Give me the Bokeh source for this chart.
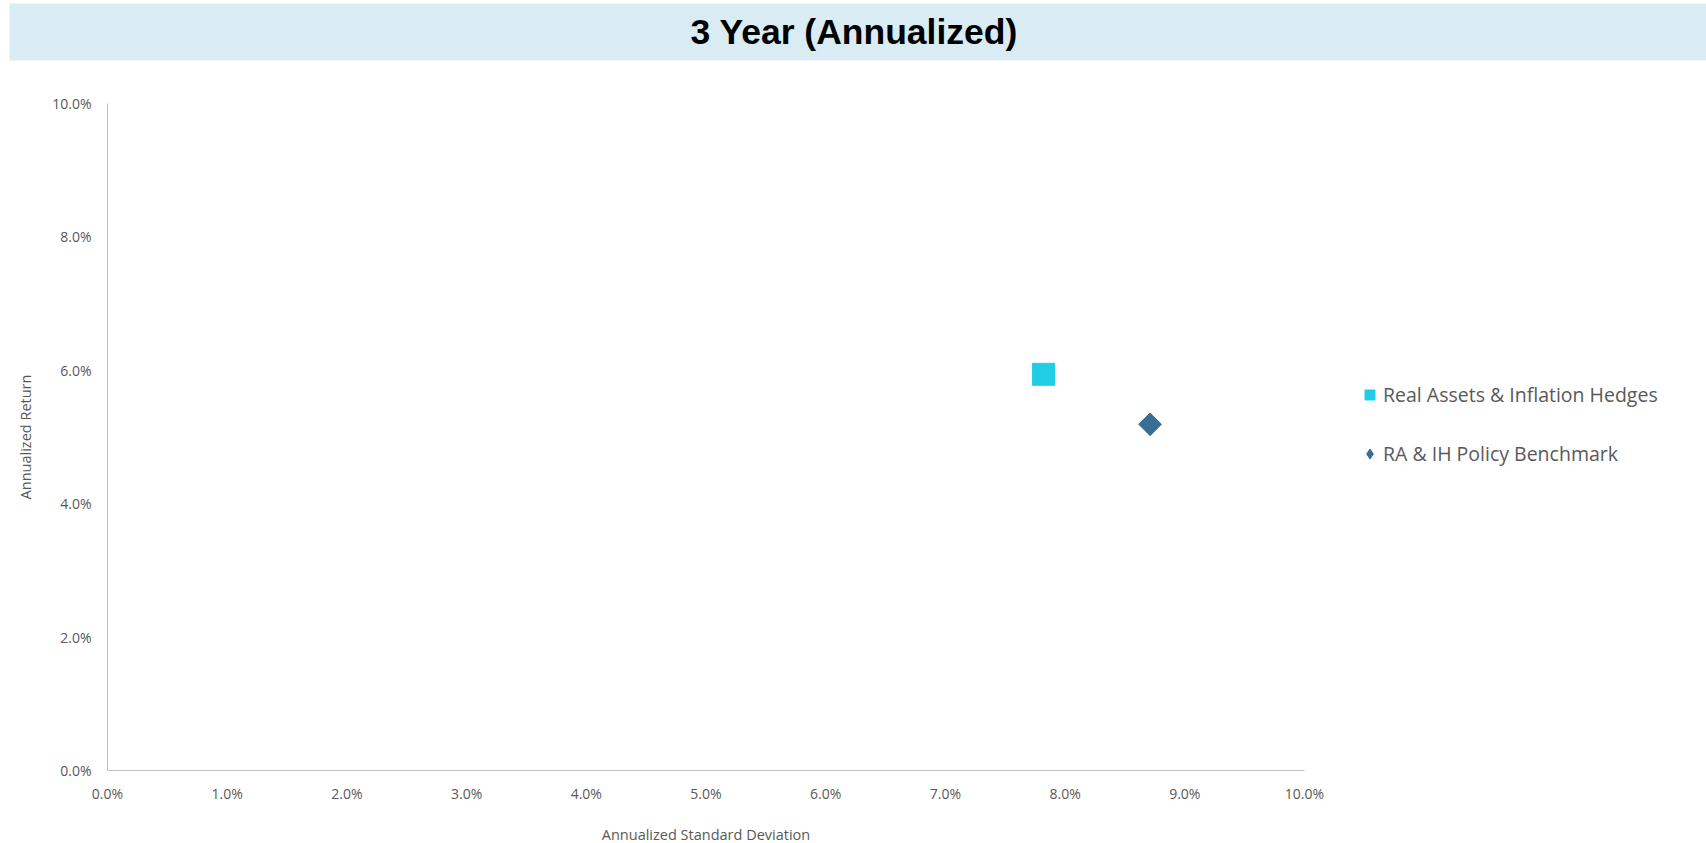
from bokeh.plotting import figure
from bokeh.models import (Legend, LegendItem, FixedTicker, PrintfTickFormatter,
                          Range1d, Title, LinearAxis)
from bokeh.embed import file_html
from bokeh.resources import INLINE

# Risk / return data (percent)
series_names = ["Real Assets & Inflation Hedges", "RA & IH Policy Benchmark"]
std_dev = [7.82, 8.71]
ann_return = [5.94, 5.19]
series_colors = ["#20CDE4", "#386E95"]

x_ticks = [0, 1, 2, 3, 4, 5, 6, 7, 8, 9, 10]
y_ticks = [0, 2, 4, 6, 8, 10]
heading_text = "3 Year (Annualized)"

TEXT_GREY = "#595959"
AXIS_GREY = "#BFBFBF"
BAND_BLUE = "#DAECF3"
FONT = "Open Sans"

# heading: title text on a full-width light blue band
heading = Title(text=heading_text, align="left", offset=-98, standoff=0,
                vertical_align="bottom",
                text_font="Liberation Sans", text_font_style="bold",
                text_font_size="35.5px", text_color="#000000",
                background_fill_color=BAND_BLUE,
                padding=dict(left=681, right=690, top=8, bottom=9))

p = figure(frame_width=1197, frame_height=667, output_backend="svg",
           toolbar_location=None, title=heading,
           x_range=Range1d(0, 10), y_range=Range1d(0, 10),
           min_border_left=107, min_border_right=0,
           min_border_top=103, min_border_bottom=73)
p.outline_line_color = None
p.grid.visible = False
p.background_fill_color = "white"
p.border_fill_color = "white"

xax = p.xaxis[0]
yax = p.yaxis[0]

sq = p.scatter(x=[std_dev[0]], y=[ann_return[0]], marker="square", size=22,
               fill_color=series_colors[0], line_color=series_colors[0])
dm = p.scatter(x=[std_dev[1]], y=[ann_return[1]], marker="square", size=16,
               angle=0.7854, fill_color=series_colors[1],
               line_color=series_colors[1])
# diamond swatch for the legend entry (zero size on the plot itself)
dm_key = p.scatter(x=[std_dev[1]], y=[ann_return[1]], marker="diamond", size=0,
                   fill_color=series_colors[1], line_color=series_colors[1])

for ax in (xax, yax):
    ax.axis_line_color = AXIS_GREY
    ax.axis_line_width = 1
    ax.major_tick_line_color = None
    ax.minor_tick_line_color = None
    ax.major_tick_out = 0
    ax.major_tick_in = 0
    ax.major_label_text_font = FONT
    ax.major_label_text_font_size = "14px"
    ax.major_label_text_color = TEXT_GREY
    ax.axis_label_text_font = FONT
    ax.axis_label_text_font_size = "14.5px"
    ax.axis_label_text_font_style = "normal"
    ax.axis_label_text_color = TEXT_GREY
    ax.formatter = PrintfTickFormatter(format="%.1f%%")

xax.ticker = FixedTicker(ticks=x_ticks)
yax.ticker = FixedTicker(ticks=y_ticks)
xax.axis_label = "Annualized Standard Deviation"
yax.axis_label = "Annualized Return"
xax.major_label_standoff = 13
yax.major_label_standoff = 16
xax.axis_label_standoff = 19
yax.axis_label_standoff = 14

# blank white strip between the heading band and the plot area
gap = LinearAxis(ticker=FixedTicker(ticks=[5]), major_tick_out=43,
                 major_tick_in=0, major_tick_line_color="white",
                 minor_tick_line_color=None, axis_line_color=None,
                 major_label_text_color=None, major_label_standoff=0,
                 major_label_overrides={5: ""})
p.add_layout(gap, "above")

legend = Legend(items=[LegendItem(label=series_names[0], renderers=[sq]),
                       LegendItem(label=series_names[1], renderers=[dm_key])],
                location=(53, 303), margin=0, padding=0,
                glyph_width=25, glyph_height=25, label_height=25,
                spacing=32, label_standoff=1,
                label_text_font=FONT, label_text_font_size="19.5px",
                label_text_color=TEXT_GREY,
                border_line_color=None, background_fill_alpha=0)
p.add_layout(legend, "right")

open("out.html", "w").write(file_html(p, INLINE))
